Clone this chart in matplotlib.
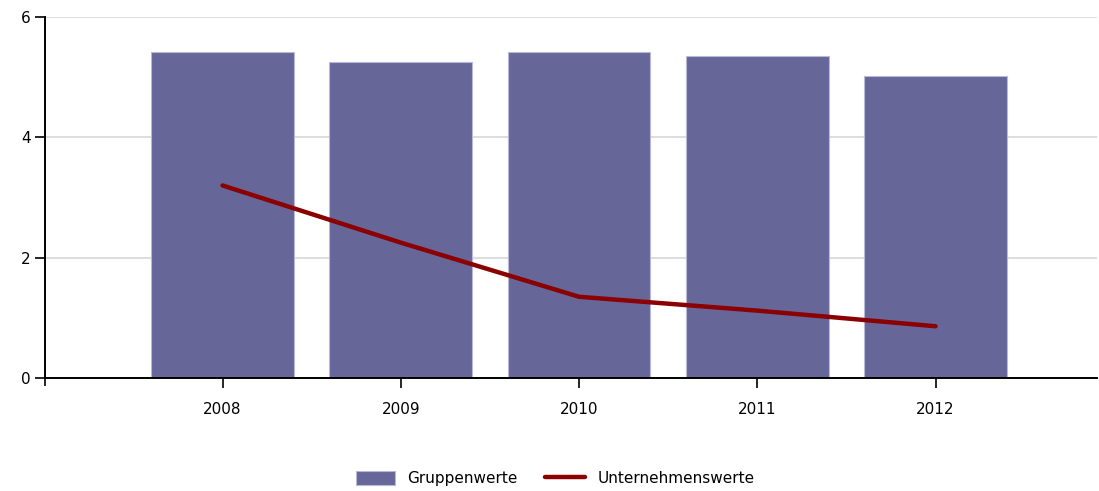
import numpy as np
import matplotlib.pyplot as plt

years = ["2008", "2009", "2010", "2011", "2012"]
gruppenwerte = [5.42, 5.25, 5.42, 5.36, 5.02]
unternehmenswerte = [3.2, 2.25, 1.35, 1.12, 0.86]

fig = plt.figure(figsize=(10.99, 4.91), dpi=100)
ax = fig.add_axes([45 / 1099, 1 - 378 / 491, 1052 / 1099, 361 / 491])

x = np.arange(len(years))
bars = ax.bar(x, gruppenwerte, width=0.8, color="#666699", edgecolor="#b8b8d8",
              linewidth=0.8, label="Gruppenwerte", zorder=2)
line, = ax.plot(x, unternehmenswerte, color="#8b0000", linewidth=3.2,
                solid_capstyle="round", label="Unternehmenswerte", zorder=3)

ax.set_ylim(0, 6)
ax.set_xlim(-0.996, 4.906)
ax.set_yticks([0, 2, 4, 6])
ax.set_xticks(x)
ax.set_xticklabels(years)
ax.set_xticks([-0.996], minor=True)
ax.tick_params(axis="x", which="minor", length=6, width=1.2, color="black")
ax.tick_params(axis="both", which="major", length=7, width=1.2,
               labelsize=11, color="black")
ax.tick_params(axis="x", pad=10)

ax.grid(axis="y", color="#dddddd", linewidth=1.4, zorder=0)
ax.set_axisbelow(True)
for s in ["top", "right"]:
    ax.spines[s].set_visible(False)
for s in ["left", "bottom"]:
    ax.spines[s].set_linewidth(1.4)

fig.legend([bars, line], ["Gruppenwerte", "Unternehmenswerte"],
           loc="lower center", bbox_to_anchor=(0.505, -0.018), ncol=2,
           frameon=False, fontsize=11, handlelength=2.6, handleheight=1.0,
           columnspacing=1.8)

fig.savefig("out.png", dpi=100)
